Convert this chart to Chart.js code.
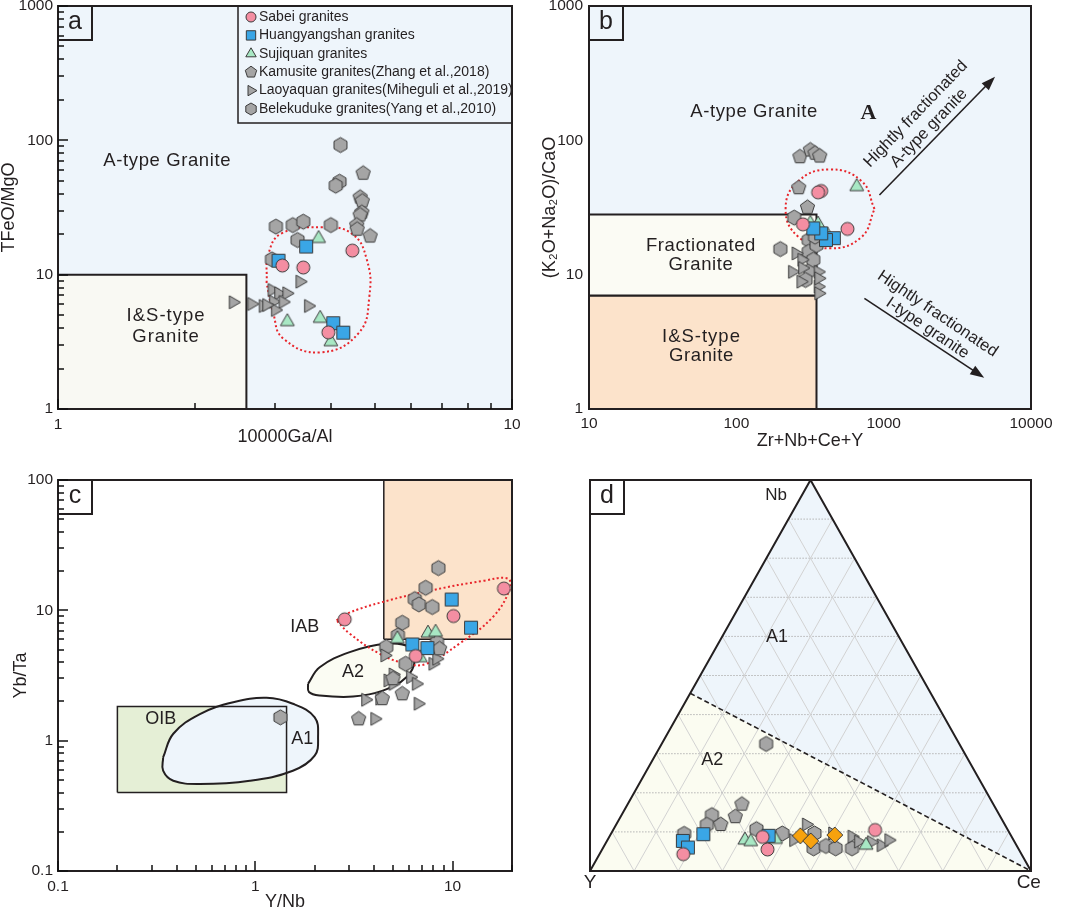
<!DOCTYPE html>
<html>
<head>
<meta charset="utf-8">
<title>A-type granite discrimination diagrams</title>
<script src="https://cdn.jsdelivr.net/npm/chart.js@4.4.1/dist/chart.umd.min.js"></script>
<style>
  html, body { margin: 0; padding: 0; background: #fff; }
  .panel { position: absolute; }
  canvas { display: block; }
</style>
</head>
<body>
<div class="panel" style="left:0;top:0"><canvas id="chartA" width="530" height="450"></canvas></div>
<div class="panel" style="left:530px;top:0"><canvas id="chartB" width="535" height="450"></canvas></div>
<div class="panel" style="left:0;top:450px"><canvas id="chartC" width="530" height="461"></canvas></div>
<div class="panel" style="left:530px;top:450px"><canvas id="chartD" width="535" height="461"></canvas></div>
<script>
const INK = "#231f20";
const FONT = '"Liberation Sans", Arial, sans-serif';
Chart.defaults.font.family = FONT;
Chart.defaults.color = INK;

// ---- panel a : TFeO/MgO vs 10000Ga/Al ----
const aSabei = [[3.12, 11.7], [3.47, 11.3], [4.45, 15.1], [3.94, 3.72]];
const aHuang = [[3.06, 12.7], [3.52, 16.2], [4.04, 4.35], [4.25, 3.70]];
const aSuji = [[3.75, 18.6], [3.20, 4.47], [3.78, 4.73], [3.99, 3.17]];
const aKamu = [[4.70, 56.9], [4.63, 37.7], [4.68, 35.3], [4.67, 29.1], [4.63, 27.8], [4.55, 23.4], [4.56, 21.8], [4.87, 19.4]];
const aLaoy = [[2.43, 6.23], [2.67, 6.05], [2.83, 5.85], [2.96, 7.69], [3.06, 7.27], [3.19, 7.27], [2.98, 6.29], [3.13, 6.26], [3.01, 5.46], [3.41, 8.87], [3.56, 5.85], [2.88, 5.94]];
const aBele = [[4.19, 92.3], [4.17, 49.2], [4.09, 46.0], [3.02, 22.8], [3.29, 23.4], [3.47, 24.8], [3.99, 23.4], [3.37, 18.1], [2.96, 13.0]];
const aIS = [[1, 1], [2.6, 1], [2.6, 10], [1, 10], [1, 1]];
const aLoop = [[2.88, 8.67], [2.91, 14.4], [3.11, 20.3], [3.78, 22.5], [4.43, 20.3], [4.79, 12.9], [4.85, 6.86], [4.59, 3.66], [3.78, 2.64], [3.13, 3.36], [2.98, 5.16], [2.88, 8.67]];

// ---- panel b : (K2O+Na2O)/CaO vs Zr+Nb+Ce+Y ----
const bSabei = [[377, 42.0], [359, 41.0], [283, 23.7], [568, 21.9]];
const bHuang = [[459, 18.7], [406, 18.1], [377, 20.3], [333, 22.1]];
const bSuji = [[656, 45.2], [359, 23.8], [338, 21.5], [416, 19.7], [318, 24.1]];
const bKamu = [[270, 75.5], [318, 84.8], [342, 80.2], [368, 76.4], [265, 44.4], [304, 31.7]];
const bLaoy = [[254, 14.4], [240, 10.5], [278, 12.9], [274, 8.87], [359, 10.5], [359, 8.14], [362, 7.27], [362, 9.4], [281, 11.2]];
const bBele = [[247, 26.6], [199, 15.5], [310, 18.1], [310, 14.8], [350, 16.6], [318, 10.8], [295, 9.13], [333, 12.9], [342, 19.2]];
const bFrac = [[10, 7], [350, 7], [350, 28], [10, 28], [10, 7]];
const bIS = [[10, 1], [350, 1], [350, 7], [10, 7], [10, 1]];
const bLoop = [[867, 30.8], [708, 49.7], [432, 60.7], [264, 49.7], [216, 30.8], [264, 19.1], [432, 15.7], [708, 19.1], [867, 30.8]];
const bArrowA = [[936, 39.2], [5700, 298]];
const bArrowI = [[740, 6.67], [4810, 1.71]];

// ---- panel c : Yb/Ta vs Y/Nb ----
const cSabei = [[2.84, 8.53], [10.1, 9.04], [18.2, 14.7], [6.50, 4.46]];
const cHuang = [[9.89, 12.1], [12.4, 7.36], [6.25, 5.47], [7.45, 5.13]];
const cSuji = [[5.25, 6.05], [7.50, 6.68], [8.20, 6.79], [6.86, 4.33]];
const cKamu = [[8.59, 5.07], [5.56, 2.29], [4.40, 2.10], [3.34, 1.47], [4.99, 2.99]];
const cLaoy = [[4.53, 4.51], [4.99, 3.22], [4.70, 2.90], [4.99, 2.73], [6.11, 3.07], [6.54, 2.73], [3.62, 2.06], [4.27, 2.10], [6.68, 1.92], [4.03, 1.47], [7.94, 3.89], [8.30, 4.25]];
const cBele = [[8.47, 21.1], [7.30, 14.9], [6.43, 12.2], [6.75, 11.1], [7.89, 10.6], [5.56, 8.03], [5.28, 6.42], [4.61, 5.23], [5.78, 3.89], [1.34, 1.51], [8.34, 5.70]];
const cOIB = [[0.2, 0.4], [1.44, 0.4], [1.44, 1.83], [0.2, 1.83], [0.2, 0.4]];
const cIAB = [[4.48, 6], [20, 6], [20, 100], [4.48, 100], [4.48, 6]];
const cA1 = [[0.341, 0.744], [0.384, 1.13], [0.524, 1.60], [0.773, 1.97], [1.14, 2.13], [1.55, 1.92], [2.00, 1.51], [2.08, 1.06], [2.00, 0.767], [1.55, 0.588], [0.938, 0.492], [0.524, 0.465], [0.384, 0.492], [0.341, 0.588], [0.341, 0.744]];
const cA2 = [[1.85, 2.73], [2.12, 3.66], [3.01, 4.78], [4.61, 5.54], [6.05, 5.22], [6.43, 4.12], [5.83, 3.07], [4.43, 2.42], [3.13, 2.18], [2.12, 2.22], [1.87, 2.36], [1.85, 2.73]];
const cLoop = [[2.58, 8.38], [2.90, 9.42], [4.43, 11.6], [7.94, 14.3], [14.2, 16.8], [19.1, 17.5], [19.4, 14.3], [16.0, 8.89], [10.8, 5.54], [7.36, 3.89], [5.83, 3.89], [4.27, 4.64], [3.01, 6.62], [2.58, 8.38]];

// ---- panel d : Nb-Y-Ce ternary, rows are [Nb %, Ce %] ----
const dSabei = [[4.3, 19.0], [5.5, 37.5], [10.5, 59.4], [8.7, 34.8]];
const dHuang = [[7.7, 17.2], [6.0, 19.2], [9.4, 21.0], [9.0, 36.0]];
const dSuji = [[7.9, 31.2], [7.5, 32.7], [8.1, 38.0], [6.6, 59.3]];
const dOther = [[9.0, 43.2], [7.7, 46.2], [9.2, 50.9]];
const dKamu = [[17.1, 25.9], [13.9, 26.0], [11.9, 23.7]];
const dLaoy = [[11.9, 43.1], [7.9, 42.2], [9.6, 50.2], [8.8, 55.0], [7.5, 57.1], [6.6, 62.7], [7.9, 63.8], [7.4, 60.1]];
const dBele = [[14.3, 20.5], [11.8, 20.6], [9.5, 16.6], [10.7, 32.4], [9.6, 38.8], [9.6, 46.1], [5.8, 47.8], [6.4, 50.3], [5.8, 52.8], [5.8, 56.5], [32.5, 23.7]];
const dA1 = [[100, 0], [0, 100], [45.45, 0], [100, 0]];
const dA2 = [[0, 0], [0, 100], [45.45, 0], [0, 0]];
const dTri = [[0, 0], [0, 100], [100, 0], [0, 0]];
const dSplit = [[45.45, 0], [0, 100]];

const MARK = {
  sabei: { kind: "circle", r: 6.5, fill: "#f48ea2" },
  huang: { kind: "square", r: 9, fill: "#3aa6e6" },
  suji: { kind: "triUp", r: 8, fill: "#a8e8c4" },
  kamu: { kind: "penta", r: 7.5, fill: "#a5a5a5" },
  laoy: { kind: "triRight", r: 7.5, fill: "#a5a5a5" },
  bele: { kind: "hexa", r: 7.5, fill: "#a5a5a5" },
  other: { kind: "diamond", r: 8, fill: "#f7a20e" },
};

function drawMark(ctx, kind, x, y, r, fill) {
  ctx.save();
  ctx.fillStyle = fill;
  ctx.strokeStyle = "#3b3b3b";
  ctx.lineWidth = 1;
  ctx.beginPath();
  if (kind === "circle") {
    ctx.arc(x, y, r, 0, Math.PI * 2);
  } else if (kind === "square") {
    ctx.rect(x - r * 0.72, y - r * 0.72, r * 1.44, r * 1.44);
  } else {
    const sides = { triUp: 3, triRight: 3, penta: 5, hexa: 6, diamond: 4 }[kind];
    const start = kind === "triRight" ? 0 : -Math.PI / 2;
    for (let i = 0; i < sides; i++) {
      const a = start + (i * 2 * Math.PI) / sides;
      const px = x + r * Math.cos(a), py = y + r * Math.sin(a);
      if (i) ctx.lineTo(px, py); else ctx.moveTo(px, py);
    }
    ctx.closePath();
  }
  ctx.fill();
  ctx.stroke();
  ctx.restore();
}

function markerImg(m) {
  const c = document.createElement("canvas");
  c.width = c.height = Math.ceil(m.r * 2 + 4);
  drawMark(c.getContext("2d"), m.kind, c.width / 2, c.height / 2, m.r, m.fill);
  return c;
}

const plain = ([x, y]) => ({ x, y });
const tern = ([nb, ce]) => ({ x: (ce + nb / 2) / 100, y: nb / 100 });

function markSet(label, rows, m, toXY = plain) {
  return {
    label,
    data: rows.map(toXY),
    showLine: false,
    pointStyle: markerImg(m),
    pointRadius: m.r,
    pointHoverRadius: m.r,
    order: m.fill === "#a5a5a5" ? 2 : 1,
  };
}

function outline(rows, o, toXY = plain) {
  return {
    data: rows.map(toXY),
    showLine: true,
    pointRadius: 0,
    pointHoverRadius: 0,
    borderColor: o.color || INK,
    borderWidth: o.width ?? 2,
    borderDash: o.dash || [],
    tension: o.tension || 0,
    fill: o.fill ? "shape" : false,
    backgroundColor: o.fill || "transparent",
    order: o.order ?? 10,
  };
}

function sixGroups(sab, hua, suj, kam, lao, bel) {
  return [
    markSet("Sabei granites", sab, MARK.sabei),
    markSet("Huangyangshan granites", hua, MARK.huang),
    markSet("Sujiquan granites", suj, MARK.suji),
    markSet("Kamusite granites(Zhang et al.,2018)", kam, MARK.kamu),
    markSet("Laoyaquan granites(Miheguli et al.,2019)", lao, MARK.laoy),
    markSet("Belekuduke granites(Yang et al.,2010)", bel, MARK.bele),
  ];
}

function tickValues(min, max, minor) {
  const out = [];
  for (let e = Math.floor(Math.log10(min)); e <= Math.ceil(Math.log10(max)); e++) {
    for (let m = 1; m < 10; m++) {
      if (!minor && m > 1) break;
      const v = +(m * Math.pow(10, e)).toPrecision(6);
      if (v >= min - 1e-9 && v <= max + 1e-9) out.push(v);
    }
  }
  return out;
}
const isDecade = (v) => Math.abs(Math.log10(v) - Math.round(Math.log10(v))) < 1e-6;

function logAxis(min, max, title, o) {
  return {
    type: "logarithmic",
    min, max,
    grid: { display: false, drawTicks: false },
    border: { display: false },
    afterBuildTicks: (s) => { s.ticks = tickValues(min, max, false).map((v) => ({ value: v })); },
    ticks: {
      autoSkip: false, maxRotation: 0, padding: o.pad, color: INK,
      font: { size: 15.5 },
      callback: (v) => (isDecade(v) ? String(v) : ""),
    },
    title: { display: true, text: title, color: INK, font: { size: 18, lineHeight: 1 }, padding: o.tpad },
    afterFit: (s) => {
      if (s.axis === "x") s.height = o.size; else s.width = o.size;
      s.paddingLeft = s.paddingRight = s.paddingTop = s.paddingBottom = 0;
    },
  };
}

// inward minor/major tick marks along the left and bottom edges
function drawInTicks(chart, minX, maxX, minY, maxY) {
  const { ctx, chartArea: a } = chart;
  const sx = chart.scales.x, sy = chart.scales.y;
  ctx.save();
  ctx.setLineDash([]);
  ctx.globalAlpha = 1;
  ctx.strokeStyle = "#111111";
  ctx.lineWidth = 1.5;
  ctx.beginPath();
  for (const v of tickValues(minX, maxX, true)) {
    const p = Math.round(sx.getPixelForValue(v));
    const len = isDecade(v) ? 10 : 6;
    ctx.moveTo(p, a.bottom);
    ctx.lineTo(p, a.bottom - len);
  }
  for (const v of tickValues(minY, maxY, true)) {
    const p = Math.round(sy.getPixelForValue(v));
    const len = isDecade(v) ? 10 : 6;
    ctx.moveTo(a.left, p);
    ctx.lineTo(a.left + len, p);
  }
  ctx.stroke();
  ctx.restore();
}

function framePlugin(cfg) {
  return {
    id: "frame",
    beforeDraw(chart) {
      const { ctx, chartArea: a } = chart;
      ctx.save();
      ctx.fillStyle = cfg.bg;
      ctx.fillRect(a.left, a.top, a.width, a.height);
      ctx.restore();
    },
    afterDraw(chart) {
      if (cfg.ticks) drawInTicks(chart, ...cfg.ticks);
    },
    afterDatasetsDraw(chart) {
      const { ctx, chartArea: a } = chart;
      const sx = chart.scales.x, sy = chart.scales.y;
      ctx.save();
      ctx.strokeStyle = INK;
      ctx.fillStyle = INK;

      for (const [p0, p1] of cfg.arrows || []) {
        const x0 = sx.getPixelForValue(p0[0]), y0 = sy.getPixelForValue(p0[1]);
        const x1 = sx.getPixelForValue(p1[0]), y1 = sy.getPixelForValue(p1[1]);
        const ang = Math.atan2(y1 - y0, x1 - x0);
        ctx.lineWidth = 1.6;
        ctx.beginPath();
        ctx.moveTo(x0, y0);
        ctx.lineTo(x1 - 10 * Math.cos(ang), y1 - 10 * Math.sin(ang));
        ctx.stroke();
        ctx.beginPath();
        ctx.moveTo(x1, y1);
        ctx.lineTo(x1 - 14 * Math.cos(ang) + 5 * Math.sin(ang), y1 - 14 * Math.sin(ang) - 5 * Math.cos(ang));
        ctx.lineTo(x1 - 14 * Math.cos(ang) - 5 * Math.sin(ang), y1 - 14 * Math.sin(ang) + 5 * Math.cos(ang));
        ctx.closePath();
        ctx.fill();
      }

      for (const n of cfg.notes || []) {
        ctx.save();
        ctx.translate(sx.getPixelForValue(n.x), sy.getPixelForValue(n.y));
        ctx.rotate(((n.rot || 0) * Math.PI) / 180);
        ctx.font = `${n.bold ? "bold " : ""}${n.size || 18}px ${n.family || FONT}`;
        if (n.spacing) ctx.letterSpacing = n.spacing;
        ctx.textAlign = "center";
        ctx.textBaseline = "middle";
        ctx.fillText(n.t, 0, 0);
        ctx.restore();
      }

      if (cfg.legend) {
        const w = 274, h = 117, left = a.right - w, top = a.top;
        ctx.fillStyle = cfg.bg;
        ctx.fillRect(left, top, w, h);
        ctx.lineWidth = 1.5;
        ctx.strokeRect(left, top, w, h);
        ctx.font = `14px ${FONT}`;
        ctx.textAlign = "left";
        ctx.textBaseline = "middle";
        cfg.legend.forEach((it, i) => {
          const y = top + 11 + i * 18.4;
          drawMark(ctx, it.m.kind, left + 13, y, it.m.kind === "square" ? 6.5 : it.m.kind === "circle" ? 5 : 6, it.m.fill);
          ctx.fillStyle = INK;
          ctx.fillText(it.label, left + 21, y);
        });
      }

      ctx.lineWidth = 2;
      ctx.strokeStyle = INK;
      ctx.strokeRect(a.left, a.top, a.width, a.height);
      ctx.fillStyle = cfg.bg;
      ctx.fillRect(a.left, a.top, 34, 34);
      ctx.strokeRect(a.left, a.top, 34, 34);
      ctx.fillStyle = INK;
      ctx.font = `25px ${FONT}`;
      ctx.textAlign = "center";
      ctx.textBaseline = "middle";
      ctx.fillText(cfg.letter, a.left + 17, a.top + 16);
      ctx.restore();
    },
  };
}

const common = {
  responsive: false,
  animation: false,
  events: [],
  plugins: { legend: { display: false }, tooltip: { enabled: false } },
};

// ---------- a ----------
new Chart(document.getElementById("chartA"), {
  type: "line",
  data: {
    datasets: [
      ...sixGroups(aSabei, aHuang, aSuji, aKamu, aLaoy, aBele),
      outline(aLoop, { color: "#e8252b", width: 2, dash: [2, 2.5], tension: 0.45, order: 5 }),
      outline(aIS, { fill: "#f9f9f3", width: 2, order: 10 }),
    ],
  },
  options: {
    ...common,
    layout: { padding: { left: 0, top: 6, right: 18, bottom: 0 }, autoPadding: false },
    scales: {
      x: logAxis(1, 10, "10000Ga/Al", { pad: 6, tpad: { bottom: 4 }, size: 41 }),
      y: logAxis(1, 1000, "TFeO/MgO", { pad: 5, tpad: { top: 0 }, size: 58 }),
    },
  },
  plugins: [framePlugin({
    bg: "#eef5fb", letter: "a", ticks: [1, 10, 1, 1000],
    notes: [
      { t: "A-type Granite", x: 1.74, y: 70.5, size: 18.5, spacing: "0.6px" },
      { t: "I&S-type", x: 1.73, y: 4.93, size: 18.5, spacing: "1px" },
      { t: "Granite", x: 1.73, y: 3.45, size: 18.5, spacing: "1px" },
    ],
    legend: [
      { label: "Sabei granites", m: MARK.sabei },
      { label: "Huangyangshan granites", m: MARK.huang },
      { label: "Sujiquan granites", m: MARK.suji },
      { label: "Kamusite granites(Zhang et al.,2018)", m: MARK.kamu },
      { label: "Laoyaquan granites(Miheguli et al.,2019)", m: MARK.laoy },
      { label: "Belekuduke granites(Yang et al.,2010)", m: MARK.bele },
    ],
  })],
});

// ---------- b ----------
new Chart(document.getElementById("chartB"), {
  type: "line",
  data: {
    datasets: [
      ...sixGroups(bSabei, bHuang, bSuji, bKamu, bLaoy, bBele),
      outline(bLoop, { color: "#e8252b", width: 2, dash: [2, 2.5], tension: 0.45, order: 5 }),
      outline(bFrac, { fill: "#fbfbf4", width: 2, order: 10 }),
      outline(bIS, { fill: "#fce3cb", width: 2, order: 11 }),
    ],
  },
  options: {
    ...common,
    layout: { padding: { left: 0, top: 6, right: 34, bottom: 0 }, autoPadding: false },
    scales: {
      x: logAxis(10, 10000, "Zr+Nb+Ce+Y", { pad: 5, tpad: { bottom: 0 }, size: 41 }),
      y: logAxis(1, 1000, "(K\u2082O+Na\u2082O)/CaO", { pad: 6, tpad: { top: 11 }, size: 59 }),
    },
  },
  plugins: [framePlugin({
    bg: "#eef5fb", letter: "b",
    arrows: [bArrowA, bArrowI],
    notes: [
      { t: "A-type Granite", x: 132, y: 163, size: 18.5, spacing: "0.6px" },
      { t: "A", x: 787, y: 159, size: 22, bold: true, family: '"Liberation Serif", "Times New Roman", serif' },
      { t: "Fractionated", x: 57.5, y: 16.4, size: 18.5, spacing: "0.6px" },
      { t: "Granite", x: 57.5, y: 11.8, size: 18.5, spacing: "0.6px" },
      { t: "I&S-type", x: 58, y: 3.42, size: 18.5, spacing: "1px" },
      { t: "Granite", x: 58, y: 2.48, size: 18.5, spacing: "0.6px" },
      { t: "Hightly fractionated", x: 1650, y: 157, size: 16.5, rot: -46 },
      { t: "A-type granite", x: 2030, y: 123, size: 16.5, rot: -46 },
      { t: "Hightly fractionated", x: 2320, y: 5.1, size: 16.5, rot: 34 },
      { t: "I-type granite", x: 1980, y: 3.99, size: 16.5, rot: 34 },
    ],
  })],
});

// ---------- c ----------
new Chart(document.getElementById("chartC"), {
  type: "line",
  data: {
    datasets: [
      ...sixGroups(cSabei, cHuang, cSuji, cKamu, cLaoy, cBele),
      outline(cLoop, { color: "#e8252b", width: 2, dash: [2, 2.5], tension: 0.4, order: 5 }),
      outline(cA2, { fill: "#fbfcf3", width: 2, tension: 0.4, order: 8 }),
      outline(cOIB, { width: 1.5, order: 9 }),
      outline(cA1, { fill: "#eef5fb", width: 2, tension: 0.4, order: 10 }),
      outline(cOIB, { fill: "#e5efd6", width: 0, order: 11 }),
      outline(cIAB, { fill: "#fce3cb", width: 1.5, order: 12 }),
    ],
  },
  options: {
    ...common,
    layout: { padding: { left: 0, top: 30, right: 18, bottom: 0 }, autoPadding: false },
    scales: {
      x: logAxis(0.1, 20, "Y/Nb", { pad: 6, tpad: { bottom: 0 }, size: 40 }),
      y: logAxis(0.1, 100, "Yb/Ta", { pad: 5, tpad: { top: 12 }, size: 58 }),
    },
  },
  plugins: [framePlugin({
    bg: "#ffffff", letter: "c", ticks: [0.1, 20, 0.1, 100],
    notes: [
      { t: "IAB", x: 1.78, y: 7.45, size: 18 },
      { t: "A2", x: 3.13, y: 3.36, size: 18 },
      { t: "OIB", x: 0.332, y: 1.47, size: 18 },
      { t: "A1", x: 1.73, y: 1.03, size: 18 },
    ],
  })],
});

// ---------- d ----------
const ternGrid = [];
for (let k = 10; k < 100; k += 10) {
  ternGrid.push(outline([[k, 0], [k, 100 - k]], { color: "#b4b4b4", width: 1, dash: [1.5, 1.5], order: 15 }, tern));
  ternGrid.push(outline([[0, k], [100 - k, k]], { color: "#d2d2d2", width: 1, order: 15 }, tern));
  ternGrid.push(outline([[0, 100 - k], [100 - k, 0]], { color: "#d2d2d2", width: 1, order: 15 }, tern));
}

new Chart(document.getElementById("chartD"), {
  type: "line",
  data: {
    datasets: [
      markSet("Sabei granites", dSabei, MARK.sabei, tern),
      markSet("Huangyangshan granites", dHuang, MARK.huang, tern),
      markSet("Sujiquan granites", dSuji, MARK.suji, tern),
      markSet("Other", dOther, MARK.other, tern),
      markSet("Kamusite granites", dKamu, MARK.kamu, tern),
      markSet("Laoyaquan granites", dLaoy, MARK.laoy, tern),
      markSet("Belekuduke granites", dBele, MARK.bele, tern),
      outline(dSplit, { width: 1.6, dash: [5, 3], order: 9 }, tern),
      outline(dTri, { width: 2, order: 9 }, tern),
      ...ternGrid,
      outline(dA1, { fill: "#eef5fb", width: 0, order: 20 }, tern),
      outline(dA2, { fill: "#fbfcf1", width: 0, order: 21 }, tern),
    ],
  },
  options: {
    ...common,
    layout: { padding: { left: 60, top: 30, right: 34, bottom: 40 }, autoPadding: false },
    scales: {
      x: { type: "linear", min: 0, max: 1, display: false },
      y: { type: "linear", min: 0, max: 1, display: false },
    },
  },
  plugins: [framePlugin({
    bg: "#ffffff", letter: "d",
    notes: [
      { t: "Nb", x: 0.422, y: 0.962, size: 17 },
      { t: "A1", x: 0.424, y: 0.598, size: 18 },
      { t: "A2", x: 0.277, y: 0.284, size: 18 },
      { t: "Y", x: 0.0, y: -0.031, size: 19 },
      { t: "Ce", x: 0.995, y: -0.031, size: 19 },
    ],
  })],
});
</script>
</body>
</html>
